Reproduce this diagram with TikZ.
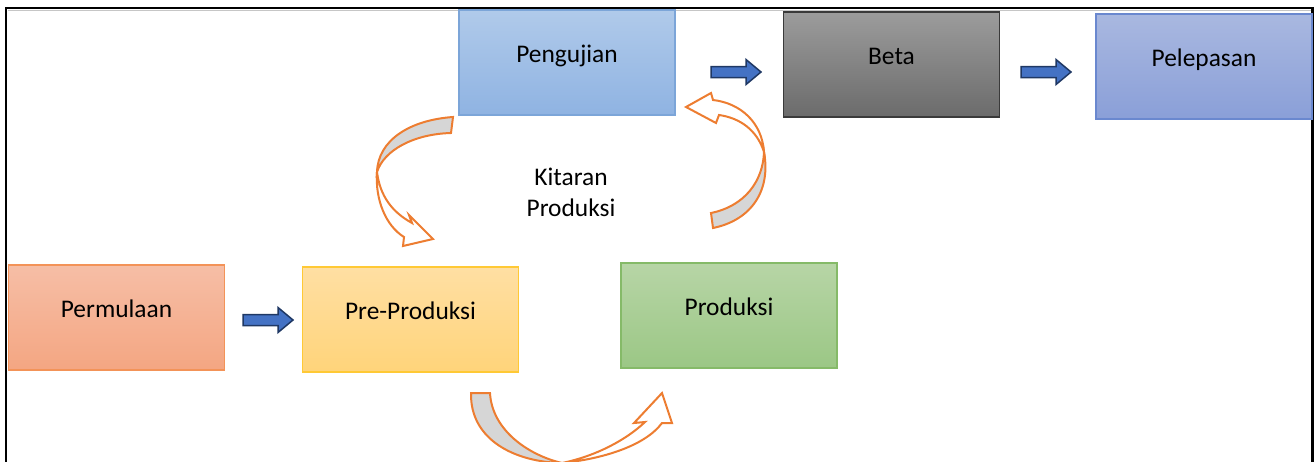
\documentclass[tikz,border=0pt]{standalone}
\usepackage{fontspec}
\setmainfont{Carlito}
\definecolor{pengT}{HTML}{B0CAEA}\definecolor{pengB}{HTML}{8FB3E2}\definecolor{pengD}{HTML}{7CA5D8}
\definecolor{betaT}{HTML}{9C9C9C}\definecolor{betaB}{HTML}{6B6B6B}\definecolor{betaD}{HTML}{3A3A3A}
\definecolor{pelT}{HTML}{A9B8E0}\definecolor{pelB}{HTML}{8A9FD8}\definecolor{pelD}{HTML}{6A88CF}
\definecolor{perT}{HTML}{F6BEA6}\definecolor{perB}{HTML}{F4A682}\definecolor{perD}{HTML}{F39358}
\definecolor{preT}{HTML}{FFDFA3}\definecolor{preB}{HTML}{FFD47A}\definecolor{preD}{HTML}{FFC935}
\definecolor{proT}{HTML}{B7D5A6}\definecolor{proB}{HTML}{9BC785}\definecolor{proD}{HTML}{85BA68}
\definecolor{arrblue}{HTML}{4472C4}\definecolor{arrnavy}{HTML}{1F3864}
\definecolor{orangeline}{HTML}{ED7D31}\definecolor{bandgrey}{HTML}{D6D6D6}
\begin{document}
\begin{tikzpicture}[x=0.5pt,y=-0.5pt,
  stagebox/.style={rectangle,minimum width=108pt,minimum height=52.5pt,line width=0.75pt,
    inner sep=0pt,text height=0pt,text depth=0pt,font=\fontsize{12.7}{15.5}\selectfont},
  curvband/.style={draw=orangeline,line width=1pt,line join=miter},
  pics/blockarrow/.style={code={
    \path[fill=arrblue,draw=arrnavy,line width=0.75pt]
      (-25,-5.5) -- (10,-5.5) -- (10,-12.5) -- (25,0) -- (10,12.5) -- (10,5.5) -- (-25,5.5) -- cycle;}}
]
\useasboundingbox (0,0) rectangle (1315,461);
\clip (0,0) rectangle (1315,461);
% frame
\draw[gray!45,line width=0.6pt] (8,10.5) -- (1311,10.5);
\draw[black,line width=1.2pt] (6,475) -- (6,8) -- (1312.5,8) -- (1312.5,475);

% boxes
\node[stagebox,top color=pengT,bottom color=pengB,draw=pengD] (peng) at (567,62.5) {Pengujian};
\node[stagebox,top color=betaT,bottom color=betaB,draw=betaD] (beta) at (891.5,64.5) {Beta};
\node[stagebox,top color=pelT,bottom color=pelB,draw=pelD] (pel) at (1204,66.5) {Pelepasan};
\node[stagebox,top color=perT,bottom color=perB,draw=perD] (perm) at (116.5,317.5) {Permulaan};
\node[stagebox,top color=preT,bottom color=preB,draw=preD] (pre) at (410.5,319.5) {Pre-Produksi};
\node[stagebox,top color=proT,bottom color=proB,draw=proD] (pro) at (729,315.5) {Produksi};

% cycle label
\node[font=\fontsize{12.7}{15.5}\selectfont,align=center,anchor=base,inner sep=0pt] (cyc) at (571,216)
  {Kitaran\\[-0.1pt]Produksi};

% block arrows
\pic at (268,320) {blockarrow};
\pic at (736,72) {blockarrow};
\pic at (1046,72) {blockarrow};

% curved arrow: Pengujian -> Pre-Produksi
\path[curvband,fill=white] (377,172) .. controls (375,200) and (386,226) .. (404,237)
  -- (403,246) -- (433,239) -- (409,215) -- (412,223)
  .. controls (392,212) and (380,196) .. (377,172) -- cycle;
\path[curvband,fill=bandgrey] (453,117) .. controls (410,120) and (378,140) .. (377,172)
  .. controls (384,150) and (414,134) .. (451,133) -- cycle;

% curved arrow: Produksi -> Pengujian
\path[curvband,fill=white] (764,152) .. controls (762,122) and (740,103) .. (713,100)
  -- (711,93) -- (686,107) -- (716,123) -- (719,115)
  .. controls (740,118) and (757,130) .. (764,152) -- cycle;
\path[curvband,fill=bandgrey] (713,228) .. controls (752,220) and (771,190) .. (764,152)
  .. controls (763,181) and (745,206) .. (711,213) -- cycle;

% curved arrow: Pre-Produksi -> Produksi
\path[curvband,fill=white] (562,463) .. controls (602,459) and (645,446) .. (662,423)
  -- (672,423) -- (662,393) -- (634,423) -- (645,422)
  .. controls (626,440) and (596,456) .. (562,463) -- cycle;
\path[curvband,fill=bandgrey] (471,393) .. controls (470,440) and (515,462) .. (562,463)
  .. controls (528,455) and (492,430) .. (490,393) -- cycle;
\end{tikzpicture}
\end{document}
